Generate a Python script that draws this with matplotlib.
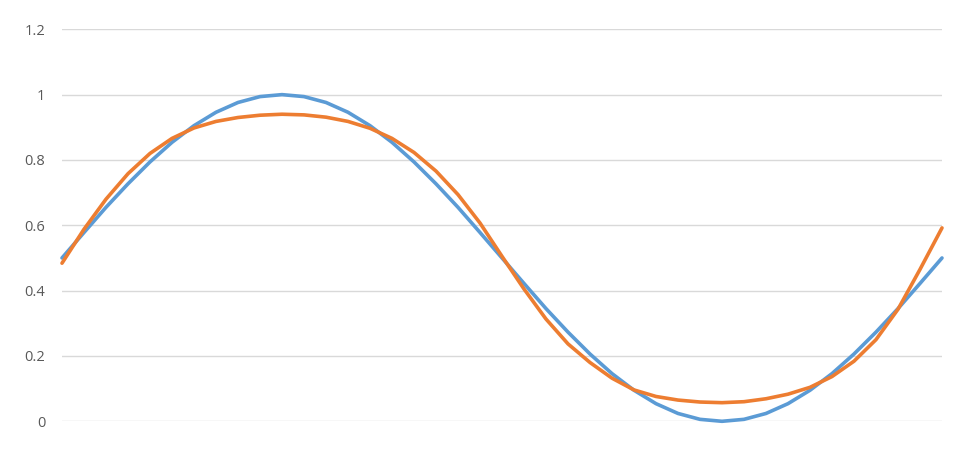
import matplotlib
matplotlib.use("Agg")
import matplotlib.pyplot as plt
from matplotlib.ticker import FixedLocator, FixedFormatter

# x positions (fraction of the plotted period)
x_vals = [i * 0.025 for i in range(41)]

series1 = [0.500, 0.578, 0.655, 0.727, 0.794, 0.854, 0.905, 0.946, 0.976, 0.994,
           1.000, 0.994, 0.976, 0.946, 0.905, 0.854, 0.794, 0.727, 0.655, 0.578,
           0.500, 0.422, 0.345, 0.273, 0.206, 0.146, 0.095, 0.054, 0.024, 0.006,
           0.000, 0.006, 0.024, 0.054, 0.095, 0.146, 0.206, 0.273, 0.345, 0.422,
           0.500]

series2 = [0.484, 0.588, 0.680, 0.758, 0.820, 0.866, 0.898, 0.918, 0.930, 0.937,
           0.940, 0.938, 0.931, 0.918, 0.897, 0.866, 0.823, 0.766, 0.694, 0.607,
           0.505, 0.405, 0.313, 0.237, 0.180, 0.132, 0.096, 0.076, 0.065, 0.059,
           0.057, 0.060, 0.069, 0.083, 0.104, 0.137, 0.184, 0.250, 0.343, 0.465,
           0.592]

y_ticks = [0, 0.2, 0.4, 0.6, 0.8, 1.0, 1.2]
y_tick_labels = ["0", "0.2", "0.4", "0.6", "0.8", "1", "1.2"]

fig = plt.figure(figsize=(9.8, 4.53), dpi=100)
ax = fig.add_axes([62 / 980, 1 - 421.3 / 453, 880 / 980, (421.3 - 29.3) / 453])

ax.plot(x_vals, series1, color="#5B9BD5", lw=2.6, solid_capstyle="round",
        solid_joinstyle="round", clip_on=False, zorder=3)
ax.plot(x_vals, series2, color="#ED7D31", lw=2.6, solid_capstyle="round",
        solid_joinstyle="round", clip_on=False, zorder=4)

ax.set_xlim(0, 1)
ax.set_ylim(0, 1.2)
ax.yaxis.set_major_locator(FixedLocator(y_ticks))
ax.yaxis.set_major_formatter(FixedFormatter(y_tick_labels))
ax.set_xticks([])
ax.grid(axis="y", color="#D9D9D9", lw=1.0)
ax.set_axisbelow(True)
for s in ax.spines.values():
    s.set_visible(False)
ax.tick_params(axis="y", length=0, pad=12, labelsize=10.5, labelcolor="#595959")
for lbl in ax.get_yticklabels():
    lbl.set_family(["Open Sans", "DejaVu Sans"])

fig.savefig("out.png", dpi=100, facecolor="white")
